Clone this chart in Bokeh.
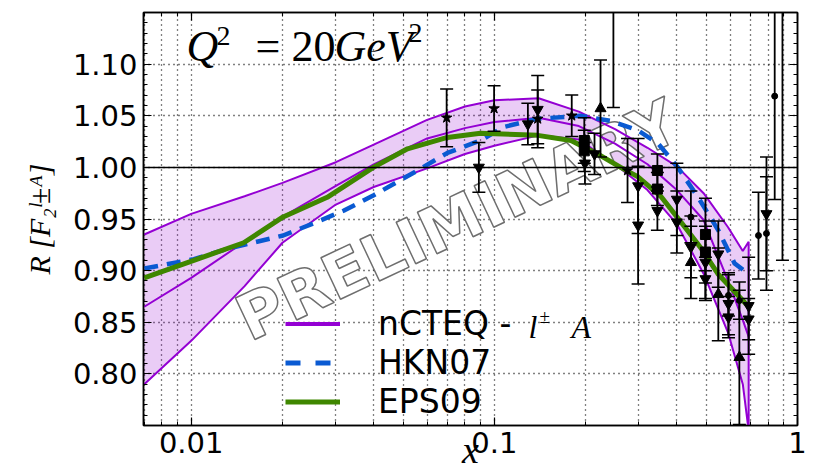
import math
from bokeh.plotting import figure
from bokeh.models import (Range1d, LogAxis, LinearAxis, FixedTicker, Span, Label,
                          Legend, LegendItem, ColumnDataSource, CustomJSTickFormatter,
                          PrintfTickFormatter)
from bokeh.core.properties import value
from bokeh.embed import file_html
from bokeh.resources import INLINE

# ---------------- data ----------------
band_x = [0.007, 0.01, 0.015, 0.02, 0.03, 0.04, 0.06, 0.08, 0.1, 0.14, 0.19, 0.25, 0.32, 0.40, 0.49, 0.59, 0.66, 0.69]
band_upper = [0.935, 0.955, 0.972, 0.985, 1.005, 1.022, 1.046, 1.059, 1.065, 1.067, 1.054, 1.037, 1.019, 1.001, 0.975, 0.942, 0.919, 0.928]
band_central = [0.865, 0.893, 0.928, 0.952, 0.982, 1.003, 1.028, 1.038, 1.044, 1.048, 1.040, 1.023, 1.003, 0.978, 0.949, 0.890, 0.852, 0.836]
band_lower = [0.790, 0.832, 0.885, 0.927, 0.964, 0.981, 0.999, 1.013, 1.021, 1.031, 1.027, 1.003, 0.978, 0.945, 0.897, 0.840, 0.790, 0.745]

hkn_x = [0.007, 0.0102, 0.0131, 0.0201, 0.0259, 0.0318, 0.040, 0.0558, 0.070, 0.090, 0.107, 0.138, 0.192, 0.242, 0.297, 0.347, 0.403, 0.470, 0.548, 0.620, 0.688]
hkn_y = [0.902, 0.911, 0.921, 0.934, 0.947, 0.958, 0.973, 0.997, 1.014, 1.026, 1.039, 1.047, 1.050, 1.045, 1.036, 1.023, 1.000, 0.971, 0.939, 0.907, 0.897]

eps_x = [0.007, 0.0102, 0.0149, 0.0201, 0.0281, 0.0399, 0.0517, 0.070, 0.090, 0.139, 0.179, 0.219, 0.261, 0.297, 0.354, 0.428, 0.480, 0.546, 0.690]
eps_y = [0.893, 0.910, 0.927, 0.952, 0.971, 1.000, 1.018, 1.029, 1.033, 1.031, 1.026, 1.013, 1.000, 0.991, 0.972, 0.941, 0.922, 0.897, 0.865]

pt_x = [0.0696, 0.0889, 0.0998, 0.129, 0.139, 0.139, 0.180, 0.198, 0.198, 0.199, 0.214, 0.224, 0.247,
        0.275, 0.298, 0.298, 0.345, 0.345, 0.345, 0.400, 0.400, 0.445, 0.445, 0.445, 0.497, 0.497,
        0.497, 0.497, 0.548, 0.548, 0.592, 0.592, 0.592, 0.643, 0.643, 0.690, 0.690, 0.7435, 0.790,
        0.790, 0.841, 0.892]
pt_y = [1.048, 1.000, 1.057, 1.042, 1.056, 1.047, 1.050, 1.026, 1.016, 1.004, 1.013, 1.057, 1.250,
        0.997, 0.982, 0.944, 0.997, 0.979, 0.958, 0.969, 0.947, 0.952, 0.923, 0.908, 0.935, 0.918,
        0.908, 0.892, 0.916, 0.877, 0.876, 0.868, 0.855, 0.871, 0.816, 0.866, 0.853, 0.934, 0.955,
        0.936, 1.069, 1.200]
pt_err = [0.028, 0.024, 0.022, 0.020, 0.033, 0.028, 0.020, 0.022, 0.020, 0.020, 0.020, 0.047, 0.192,
          0.031, 0.046, 0.057, 0.016, 0.016, 0.019, 0.035, 0.030, 0.025, 0.030, 0.035, 0.035, 0.030,
          0.035, 0.021, 0.032, 0.045, 0.020, 0.030, 0.020, 0.018, 0.065, 0.047, 0.020, 0.042, 0.055,
          0.055, 0.100, 0.290]
pt_marker = ["star", "inverted_triangle", "star", "inverted_triangle", "inverted_triangle", "star", "star",
             "square", "square", "inverted_triangle", "inverted_triangle", "triangle", "circle",
             "star", "inverted_triangle", "inverted_triangle", "square", "square", "inverted_triangle",
             "inverted_triangle", "inverted_triangle", "circle", "inverted_triangle", "triangle",
             "square", "square", "inverted_triangle", "inverted_triangle", "inverted_triangle", "triangle",
             "circle", "inverted_triangle", "inverted_triangle", "circle", "triangle",
             "inverted_triangle", "inverted_triangle", "circle", "inverted_triangle", "circle",
             "circle", "circle"]

x_major = [0.01, 0.1, 1.0]
x_minor = [0.007, 0.008, 0.009, 0.02, 0.03, 0.04, 0.05, 0.06, 0.07, 0.08, 0.09,
           0.2, 0.3, 0.4, 0.5, 0.6, 0.7, 0.8, 0.9]
y_major = [0.80, 0.85, 0.90, 0.95, 1.00, 1.05, 1.10]
y_minor = [round(0.75 + 0.01 * i, 2) for i in range(41)]

legend_labels = ["nCTEQ -", "HKN07", "EPS09"]

# ---------------- layout helpers ----------------
X0, X1 = 0.00696, 1.0
Y0, Y1 = 0.75, 1.15
FL, FR, FT, FB = 143, 797, 12, 425
W, H = 813, 474


def px2x(px):
    return 10 ** (math.log10(X0) + (px - FL) / (FR - FL) * (math.log10(X1) - math.log10(X0)))


def py2y(py):
    return Y1 - (py - FT) / (FB - FT) * (Y1 - Y0)


PURPLE = "#9400d3"
BLUE = "#0a5ad2"
GREEN = "#3f8700"
SERIF = "Liberation Serif"

p = figure(width=W, height=H, x_axis_type="log",
           x_range=Range1d(X0, X1), y_range=Range1d(Y0, Y1),
           output_backend="svg", toolbar_location=None,
           min_border_left=FL, min_border_right=W - FR,
           min_border_top=FT, min_border_bottom=H - FB)
p.background_fill_color = "white"
p.border_fill_color = "white"
p.outline_line_color = "black"
p.outline_line_width = 1.5

xt = FixedTicker(ticks=x_major, minor_ticks=x_minor)
yt = FixedTicker(ticks=y_major, minor_ticks=y_minor)


def style_axis(ax, labels=True):
    ax.axis_line_color = "black"
    ax.axis_line_width = 1.5
    ax.major_tick_in = 8
    ax.major_tick_out = 0
    ax.minor_tick_in = 4
    ax.minor_tick_out = 0
    ax.major_tick_line_color = "black"
    ax.minor_tick_line_color = "black"
    ax.major_tick_line_width = 1.2
    ax.minor_tick_line_width = 1.0
    if labels:
        ax.major_label_text_font = "DejaVu Sans"
        ax.major_label_text_font_size = "29px"
        ax.major_label_text_color = "black"
    else:
        ax.formatter = CustomJSTickFormatter(code="return ''")
        ax.major_label_text_font_size = "1px"
        ax.major_label_standoff = 0


xa = p.xaxis[0]
xa.ticker = xt
xa.formatter = CustomJSTickFormatter(code="return String(tick)")
style_axis(xa)
xa.major_label_standoff = 6
xa.axis_label = "x"
xa.axis_label_text_font = SERIF
xa.axis_label_text_font_style = "italic"
xa.axis_label_text_font_size = "38px"
xa.axis_label_text_color = "black"
xa.axis_label_standoff = -27

ya = p.yaxis[0]
ya.ticker = yt
ya.formatter = PrintfTickFormatter(format="%.2f")
style_axis(ya)
ya.major_label_standoff = 6
ya.axis_label = "R [F\u2082\u02e1\u00b1\u1d2c]"
ya.axis_label_text_font = SERIF
ya.axis_label_text_font_style = "italic"
ya.axis_label_text_font_size = "30px"
ya.axis_label_text_color = "black"
ya.axis_label_standoff = 14

top = LogAxis(ticker=xt)
style_axis(top, labels=False)
p.add_layout(top, "above")
right = LinearAxis(ticker=yt)
style_axis(right, labels=False)
p.add_layout(right, "right")

p.xgrid.ticker = xt
p.ygrid.ticker = yt
for g in (p.xgrid[0], p.ygrid[0]):
    g.grid_line_color = "black"
    g.grid_line_dash = "1 4"
    g.grid_line_width = 1.3
p.xgrid[0].minor_grid_line_color = "black"
p.xgrid[0].minor_grid_line_dash = "1 4"
p.xgrid[0].minor_grid_line_width = 1.3

# ---------------- band ----------------
p.varea(x=band_x, y1=band_lower, y2=band_upper, fill_color=PURPLE, fill_alpha=0.2)

# PRELIMINARY watermark
p.text(x=[px2x(457)], y=[py2y(220)], text=["PRELIMINARY"], angle=0.44,
       text_align="center", text_baseline="middle",
       text_font=value("DejaVu Sans"), text_font_style="bold", text_font_size="63px",
       text_color="white", text_outline_color="#6e6e6e")

p.line(x=band_x + band_x[::-1], y=band_upper + band_lower[::-1], line_color=PURPLE, line_width=2)
p.line(x=band_x, y=band_central, line_color=PURPLE, line_width=2)
p.line(x=hkn_x, y=hkn_y, line_color=BLUE, line_width=4.5, line_dash="14 9")
p.line(x=eps_x, y=eps_y, line_color=GREEN, line_width=5)

p.add_layout(Span(location=1.0, dimension="width", line_color="black", line_width=1.5))

# ---------------- data points ----------------
msize = {"star": 11, "inverted_triangle": 11, "triangle": 11, "square": 10, "circle": 6}
src = ColumnDataSource(dict(
    x=pt_x, y=pt_y, marker=pt_marker,
    upper=[y + e for y, e in zip(pt_y, pt_err)],
    lower=[y - e for y, e in zip(pt_y, pt_err)],
    size=[msize[m] for m in pt_marker]))
p.segment(x0="x", y0="lower", x1="x", y1="upper", source=src, line_color="black", line_width=1.8)
p.scatter(x="x", y="upper", source=src, marker="dash", size=13, line_color="black", line_width=1.5)
p.scatter(x="x", y="lower", source=src, marker="dash", size=13, line_color="black", line_width=1.5)
p.scatter(x="x", y="y", source=src, marker="marker", size="size", fill_color="black", line_color="black")

# ---------------- legend (proxy renderers lie outside the visible range) ----------------
off_x, off_y = [2.0, 3.0], [0.5, 0.5]
lg_n = p.line(x=off_x, y=off_y, line_color=PURPLE, line_width=4)
lg_h = p.line(x=off_x, y=off_y, line_color=BLUE, line_width=5, line_dash="15 15")
lg_e = p.line(x=off_x, y=off_y, line_color=GREEN, line_width=5)
legend = Legend(items=[LegendItem(label=legend_labels[0], renderers=[lg_n]),
                       LegendItem(label=legend_labels[1], renderers=[lg_h]),
                       LegendItem(label=legend_labels[2], renderers=[lg_e])],
                location=(142, 4), padding=0, spacing=0, margin=0,
                glyph_width=55, glyph_height=35, label_height=35, label_standoff=38,
                label_text_font="DejaVu Sans", label_text_font_size="33px",
                label_text_color="black",
                border_line_alpha=0, background_fill_alpha=0)
p.add_layout(legend)


def lab(txt, px, py, size, italic=True, angle=0.0, align="left"):
    # py is the intended baseline in pixels; Bokeh places the alphabetic baseline lower
    p.add_layout(Label(x=px2x(px), y=py2y(py - 0.39 * size), text=txt, angle=angle,
                       text_font=SERIF, text_font_size=f"{size}px",
                       text_font_style="italic" if italic else "normal",
                       text_align=align, text_baseline="alphabetic", text_color="black"))


# legend math suffix
lab("l", 528, 339, 32)
lab("±", 539, 323, 19, italic=False)
lab("A", 571, 339, 32)

# Q^2 label
lab("Q", 186, 63, 44)
lab("2", 216, 46, 28, italic=False)
lab("=", 255, 63, 44, italic=False)
lab("20", 291, 63, 44, italic=False)
lab("GeV", 334, 63, 44)
lab("2", 408, 43, 28, italic=False)

open("out.html", "w").write(file_html(p, INLINE))
